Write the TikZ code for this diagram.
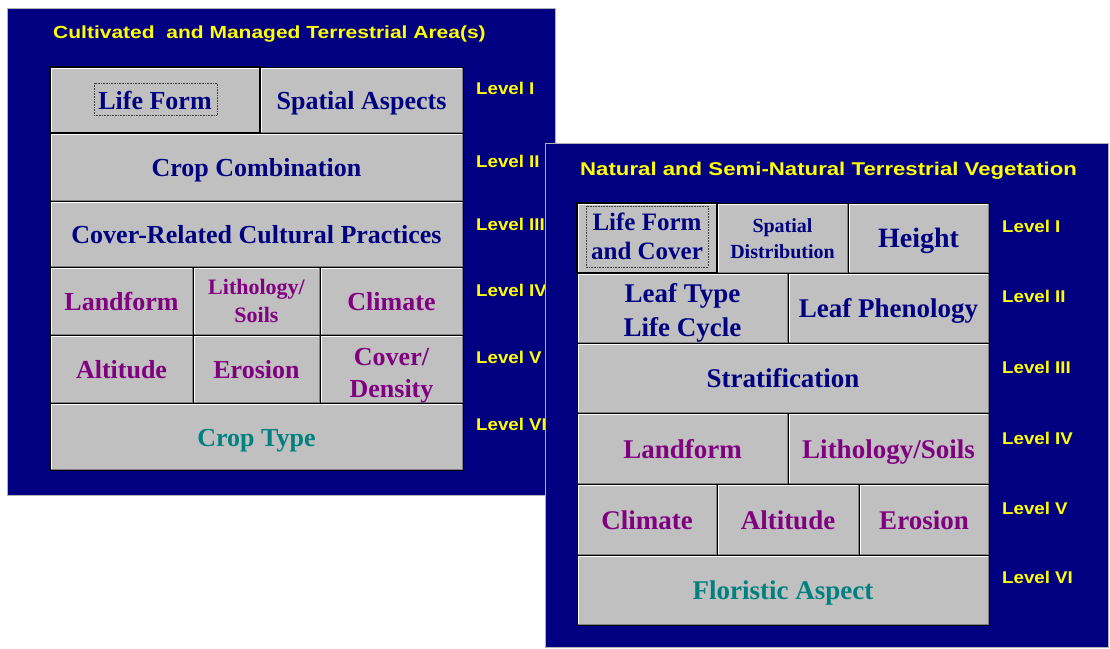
\documentclass[tikz,border=0pt]{standalone}
\usepackage{fontspec}
\setmainfont{Liberation Serif}
\newfontfamily\skilt[FakeStretch=1.2]{Liberation Sans}
\newfontfamily\skiltsmal[FakeStretch=1.1]{Liberation Sans}
\usetikzlibrary{positioning}
\definecolor{marine}{HTML}{000080}
\definecolor{knapgraa}{HTML}{C0C0C0}
\definecolor{lilla}{HTML}{800080}
\definecolor{petrol}{HTML}{008080}
\definecolor{gul}{HTML}{FFFF00}
\tikzset{
    panel/.style={
           fill=marine,
           draw=gray!60, line width=1pt},
    knap/.style={
           rectangle,
           fill=knapgraa,
           draw=black, line width=0.8pt,
           inner sep=0pt, outer sep=0pt,
           anchor=north west,
           align=center,
           text=marine,
           text height=21pt, text depth=1.5pt,
           font=\bfseries\fontsize{26}{30}\selectfont,
           path picture={
              \draw[white, line width=3pt] (path picture bounding box.south west) -- (path picture bounding box.north west) -- (path picture bounding box.north east);
              \draw[gray, line width=3pt] (path picture bounding box.south west) -- (path picture bounding box.south east) -- (path picture bounding box.north east);
           }},
    hoejre/.style={
           anchor=west,
           right=of #1},
    valgt/.style={
           line width=2pt},
    fokus/.style={
           draw=black!75,
           densely dotted, line width=0.6pt},
    niv/.style={
           anchor=base west,
           inner sep=0pt,
           text=gul,
           font=\skiltsmal\bfseries\fontsize{17}{19}\selectfont},
    titel/.style={
           anchor=base west,
           inner sep=0pt,
           text=gul,
           font=\skilt\bfseries\fontsize{17.5}{20}\selectfont}
}
\begin{document}
\begin{tikzpicture}[x=1pt, y=-1pt, node distance=0pt]
        \useasboundingbox (0,0) rectangle (1110,648);
        \fill[white] (0,0) rectangle (1110,648);

        % cultivated areas
        \draw[panel] (7,8) rectangle (555,495);
        \node[titel] (t1) at (53,38.5) {Cultivated~ and Managed Terrestrial Area(s)};

        \node[knap, valgt, minimum width=210pt, minimum height=66pt] (c1) at (50,67) {Life Form};
        \node[knap, hoejre=c1, minimum width=203pt, minimum height=66pt] (c2) {Spatial Aspects};
        \node[knap, minimum width=413pt, minimum height=68pt] (c3) at (50,133) {Crop Combination};
        \node[knap, minimum width=413pt, minimum height=66pt] (c4) at (50,201) {Cover-Related Cultural Practices};
        \node[knap, text=lilla, minimum width=143pt, minimum height=68pt] (c5) at (50,267) {Landform};
        \node[knap, hoejre=c5, text=lilla, minimum width=127pt, minimum height=68pt,
              font=\bfseries\fontsize{22}{28}\selectfont, text height=44pt, text depth=1.4pt] (c6) {Lithology/\\Soils};
        \node[knap, hoejre=c6, text=lilla, minimum width=143pt, minimum height=68pt] (c7) {Climate};
        \node[knap, text=lilla, minimum width=143pt, minimum height=68pt] (c8) at (50,335) {Altitude};
        \node[knap, hoejre=c8, text=lilla, minimum width=127pt, minimum height=68pt] (c9) {Erosion};
        \node[knap, hoejre=c9, text=lilla, minimum width=143pt, minimum height=68pt,
              font=\bfseries\fontsize{26}{32}\selectfont, text height=58pt, text depth=1.8pt] (c10) {Cover/\\Density};
        \node[knap, text=petrol, minimum width=413pt, minimum height=67pt] (c11) at (50,403) {Crop Type};
        \draw[fokus] (c1.center) ++(-61,-17) rectangle ++(123,32);

        \node[niv] (l1) at (476,94) {Level I};
        \node[niv] (l2) at (476,167) {Level II};
        \node[niv] (l3) at (476,230) {Level III};
        \node[niv] (l4) at (476,296) {Level IV};
        \node[niv] (l5) at (476,363) {Level V};
        \node[niv] (l6) at (476,430) {Level VI};

        % natural vegetation
        \draw[panel] (545,143) rectangle (1108,647);
        \node[titel, font=\skilt\bfseries\fontsize{18.5}{21}\selectfont] (t2) at (580,175) {Natural and Semi-Natural Terrestrial Vegetation};

        \node[knap, valgt, minimum width=140pt, minimum height=70pt,
              font=\bfseries\fontsize{25}{29}\selectfont, text height=45pt, text depth=1.5pt] (n1) at (577,203) {Life Form\\and Cover};
        \node[knap, hoejre=n1, minimum width=131pt, minimum height=70pt,
              font=\bfseries\fontsize{20}{26}\selectfont, text height=42pt, text depth=1.8pt] (n2) {Spatial\\Distribution};
        \node[knap, hoejre=n2, minimum width=141pt, minimum height=70pt,
              font=\bfseries\fontsize{28}{30}\selectfont] (n3) {Height};
        \node[knap, minimum width=211pt, minimum height=70pt,
              font=\bfseries\fontsize{27}{34}\selectfont, text height=60pt, text depth=2.1pt] (n4) at (577,273) {Leaf Type\\Life Cycle};
        \node[knap, hoejre=n4, minimum width=201pt, minimum height=70pt,
              font=\bfseries\fontsize{27}{30}\selectfont] (n5) {Leaf Phenology};
        \node[knap, minimum width=412pt, minimum height=70pt,
              font=\bfseries\fontsize{27}{30}\selectfont] (n6) at (577,343) {Stratification};
        \node[knap, text=lilla, minimum width=211pt, minimum height=71pt,
              font=\bfseries\fontsize{27}{30}\selectfont] (n7) at (577,413) {Landform};
        \node[knap, hoejre=n7, text=lilla, minimum width=201pt, minimum height=71pt,
              font=\bfseries\fontsize{27}{30}\selectfont] (n8) {Lithology/Soils};
        \node[knap, text=lilla, minimum width=140pt, minimum height=71pt,
              font=\bfseries\fontsize{27}{30}\selectfont] (n9) at (577,484) {Climate};
        \node[knap, hoejre=n9, text=lilla, minimum width=142pt, minimum height=71pt,
              font=\bfseries\fontsize{27}{30}\selectfont] (n10) {Altitude};
        \node[knap, hoejre=n10, text=lilla, minimum width=130pt, minimum height=71pt,
              font=\bfseries\fontsize{27}{30}\selectfont] (n11) {Erosion};
        \node[knap, text=petrol, minimum width=412pt, minimum height=70pt,
              font=\bfseries\fontsize{27}{30}\selectfont] (n12) at (577,555) {Floristic Aspect};
        \draw[fokus] (n1.center) ++(-61,-32) rectangle ++(122,61);

        \node[niv] (r1) at (1002,232) {Level I};
        \node[niv] (r2) at (1002,302) {Level II};
        \node[niv] (r3) at (1002,373) {Level III};
        \node[niv] (r4) at (1002,444) {Level IV};
        \node[niv] (r5) at (1002,514) {Level V};
        \node[niv] (r6) at (1002,583) {Level VI};
    \end{tikzpicture}
\end{document}
